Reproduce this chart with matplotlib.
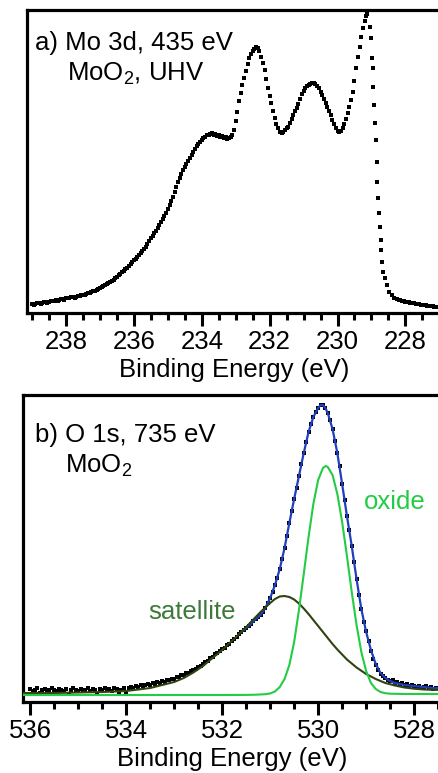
import numpy as np
import matplotlib
matplotlib.use("Agg")
import matplotlib.pyplot as plt
from matplotlib.ticker import MultipleLocator

plt.rcParams['font.family'] = ['Liberation Sans', 'DejaVu Sans']
plt.rcParams['mathtext.fontset'] = 'custom'
plt.rcParams['mathtext.rm'] = 'Liberation Sans'
plt.rcParams['mathtext.it'] = 'Liberation Sans'
plt.rcParams['mathtext.default'] = 'regular'

# ---------------- Panel a: Mo 3d ----------------
mo_energy = [
    239.00, 238.95, 238.90, 238.85, 238.80, 238.75, 238.70, 238.65, 238.60, 238.55,
    238.50, 238.45, 238.40, 238.35, 238.30, 238.25, 238.20, 238.15, 238.10, 238.05,
    238.00, 237.95, 237.90, 237.85, 237.80, 237.75, 237.70, 237.65, 237.60, 237.55,
    237.50, 237.45, 237.40, 237.35, 237.30, 237.25, 237.20, 237.15, 237.10, 237.05,
    237.00, 236.95, 236.90, 236.85, 236.80, 236.75, 236.70, 236.65, 236.60, 236.55,
    236.50, 236.45, 236.40, 236.35, 236.30, 236.25, 236.20, 236.15, 236.10, 236.05,
    236.00, 235.95, 235.90, 235.85, 235.80, 235.75, 235.70, 235.65, 235.60, 235.55,
    235.50, 235.45, 235.40, 235.35, 235.30, 235.25, 235.20, 235.15, 235.10, 235.05,
    235.00, 234.95, 234.90, 234.85, 234.80, 234.75, 234.70, 234.65, 234.60, 234.55,
    234.50, 234.45, 234.40, 234.35, 234.30, 234.25, 234.20, 234.15, 234.10, 234.05,
    234.00, 233.95, 233.90, 233.85, 233.80, 233.75, 233.70, 233.65, 233.60, 233.55,
    233.50, 233.45, 233.40, 233.35, 233.30, 233.25, 233.20,
    233.15, 233.10, 233.05, 233.00, 232.95, 232.90, 232.85, 232.80, 232.75, 232.70,
    232.65, 232.60, 232.55, 232.50, 232.45, 232.40, 232.35, 232.30, 232.25, 232.20,
    232.15, 232.10, 232.05, 232.00, 231.95, 231.90, 231.85, 231.80, 231.75, 231.70,
    231.65, 231.60, 231.55, 231.50, 231.45, 231.40, 231.35, 231.30, 231.25, 231.20,
    231.15, 231.10, 231.05, 231.00, 230.95, 230.90, 230.85, 230.80, 230.75, 230.70,
    230.65, 230.60, 230.55, 230.50, 230.45, 230.40, 230.35, 230.30, 230.25, 230.20,
    230.15, 230.10, 230.05, 230.00, 229.95, 229.90, 229.85, 229.80, 229.75, 229.70,
    229.65, 229.60, 229.55, 229.50, 229.45, 229.40, 229.35, 229.30, 229.25, 229.20,
    229.15, 229.12, 229.04, 229.01, 228.99, 228.965, 228.94, 228.92, 228.895, 228.87,
    228.85, 228.825, 228.80, 228.78, 228.755, 228.73, 228.71, 228.685, 228.66, 228.60,
    228.55, 228.47, 228.40, 228.33, 228.25, 228.20, 228.15, 228.10, 228.05, 228.00,
    227.95, 227.90, 227.85, 227.80, 227.75, 227.70, 227.65, 227.60, 227.55, 227.50,
    227.45, 227.40, 227.35, 227.30, 227.25, 227.20, 227.15, 227.10, 227.05, 227.00,
]
mo_counts = [
    9, 8, 9, 10, 10, 9, 10, 11, 11, 10,
    11, 12, 12, 12, 13, 12, 13, 14, 14, 13,
    15, 15, 15, 16, 16, 15, 16, 17, 17, 18,
    18, 18, 19, 20, 20, 21, 22, 22, 23, 24,
    25, 26, 27, 28, 29, 30, 31, 32, 33, 35,
    36, 38, 39, 41, 42, 44, 45, 47, 49, 51,
    53, 54, 56, 58, 60, 62, 64, 66, 69, 72,
    75, 77, 80, 82, 85, 88, 91, 94, 97, 100,
    104, 108, 112, 116, 121, 126, 131, 135, 139, 143,
    146, 149, 152, 155, 158, 161, 164, 167, 169, 171,
    173, 175, 176, 178, 178, 179, 180, 178, 179, 177,
    178, 176, 177, 175, 176, 174, 175,
    176, 178, 183, 192, 201, 212, 220, 228, 235, 242,
    249, 255, 259, 262, 264, 266, 265, 262, 256, 250,
    243, 234, 225, 217, 210, 202, 195, 189, 185, 181,
    180, 181, 183, 185, 186, 190, 194, 198, 202, 205,
    209, 214, 219, 222, 225, 227, 228, 229, 230, 230,
    229, 227, 225, 221, 218, 214, 210, 206, 202, 198,
    193, 189, 185, 182, 181, 182, 185, 189, 194, 200,
    206, 213, 221, 232, 245, 256, 266, 276, 285, 292,
    297, 299, 286, 275, 255, 245, 226, 208, 190, 173,
    151, 131, 115, 100, 86, 73, 63, 51, 41, 35,
    28, 21, 18, 15, 14, 13, 13, 12, 12, 11,
    11, 11, 10, 10, 10, 9, 9, 9, 8, 8,
    8, 8, 7, 7, 7, 7, 6, 6, 6, 6,
]
mo_ticks = [238, 236, 234, 232, 230, 228]

# ---------------- Panel b: O 1s ----------------
o_energy = [
    536.00, 535.95, 535.90, 535.85, 535.80, 535.75, 535.70, 535.65, 535.60, 535.55,
    535.50, 535.45, 535.40, 535.35, 535.30, 535.25, 535.20, 535.15, 535.10, 535.05,
    535.00, 534.95, 534.90, 534.85, 534.80, 534.75, 534.70, 534.65, 534.60, 534.55,
    534.50, 534.45, 534.40, 534.35, 534.30, 534.25, 534.20, 534.15, 534.10, 534.05,
    534.00, 533.95, 533.90, 533.85, 533.80, 533.75, 533.70, 533.65, 533.60, 533.55,
    533.50, 533.45, 533.40, 533.35, 533.30, 533.25, 533.20, 533.15, 533.10, 533.05,
    533.00, 532.95, 532.90, 532.85, 532.80, 532.75, 532.70, 532.65, 532.60, 532.55,
    532.50, 532.45, 532.40, 532.35, 532.30, 532.25, 532.20, 532.15, 532.10, 532.05,
    532.00, 531.95, 531.90, 531.85, 531.80, 531.75, 531.70, 531.65, 531.60, 531.55,
    531.50, 531.45, 531.40, 531.35, 531.30, 531.25, 531.20, 531.15, 531.10, 531.05,
    531.00, 530.95, 530.90, 530.85, 530.80, 530.75, 530.70, 530.65, 530.60, 530.55,
    530.50, 530.45, 530.40, 530.35, 530.30, 530.25, 530.20, 530.15, 530.10, 530.05,
    530.00, 529.95, 529.90, 529.85, 529.80, 529.75, 529.70, 529.65, 529.60, 529.55,
    529.50, 529.45, 529.40, 529.35, 529.30, 529.25, 529.20, 529.15, 529.10, 529.05,
    529.00, 528.95, 528.90, 528.85, 528.80, 528.75, 528.70, 528.65, 528.60, 528.55,
    528.50, 528.45, 528.40, 528.35, 528.30, 528.25, 528.20, 528.15, 528.10, 528.05,
    528.00, 527.95, 527.90, 527.85, 527.80, 527.75, 527.70, 527.65, 527.60, 527.55,
    527.50,
]
o_counts = [
    13, 11, 12, 14, 9, 12, 13, 11, 12, 14,
    12, 11, 13, 12, 11, 13, 8, 12, 14, 12,
    11, 13, 12, 12, 14, 11, 13, 12, 8, 13,
    12, 14, 12, 13, 11, 14, 13, 9, 12, 14,
    10, 14, 15, 14, 16, 15, 17, 16, 17, 18,
    17, 19, 18, 20, 19, 21, 20, 22, 22, 23,
    23, 25, 25, 27, 27, 29, 29, 31, 32, 33,
    35, 36, 38, 40, 41, 44, 45, 48, 49, 51,
    53, 54, 57, 58, 61, 63, 65, 68, 70, 72,
    74, 76, 78, 81, 83, 85, 87, 90, 94, 99,
    104, 110, 117, 124, 133, 143, 154, 166, 179, 191,
    203, 214, 226, 238, 249, 260, 270, 278, 285, 290,
    294, 297, 297, 294, 289, 282, 273, 261, 249, 236,
    218, 202, 186, 172, 156, 140, 123, 107, 93, 80,
    71, 61, 51, 43, 37, 32, 28, 26, 24, 22,
    21, 22, 19, 20, 18, 19, 17, 18, 16, 17,
    16, 15, 16, 14, 15, 16, 14, 15, 13, 14,
    14,
]
fit_energy = [
    531.6, 531.5, 531.4, 531.3, 531.2, 531.1, 531.0, 530.9, 530.8, 530.7,
    530.6, 530.5, 530.4, 530.3, 530.2, 530.1, 530.0, 529.95, 529.9, 529.85,
    529.8, 529.7, 529.6, 529.5, 529.4, 529.3, 529.2, 529.1, 529.0, 528.9,
    528.8, 528.7, 528.6, 528.5, 528.4, 528.2, 528.0, 527.8, 527.6, 527.45,
]
fit_envelope = [
    70, 74, 78, 83, 87, 94, 104, 117, 133, 154,
    179, 203, 226, 249, 270, 285, 294, 297, 297, 294,
    289, 273, 249, 218, 186, 156, 123, 93, 70, 52,
    38, 29, 24, 21, 19, 17, 16, 15, 14, 14,
]
oxide_energy = [
    536.2, 535.0, 534.0, 533.0, 532.0, 531.5, 531.3, 531.1, 531.0, 530.9,
    530.8, 530.7, 530.6, 530.5, 530.4, 530.3, 530.2, 530.1, 530.0, 529.9,
    529.84, 529.8, 529.7, 529.6, 529.5, 529.4, 529.3, 529.2, 529.1, 529.0,
    528.9, 528.8, 528.7, 528.6, 528.5, 528.2, 527.8, 527.45,
]
oxide_fit = [
    7, 7, 7, 7, 7, 7.1, 7.3, 7.8, 8.5, 10.5,
    15, 23, 37, 60, 92, 128, 165, 198, 222, 234,
    236, 235, 227, 208, 180, 146, 110, 77, 50, 31,
    19, 13, 10, 8.8, 8.3, 8, 8, 8,
]
sat_energy = [
    536.2, 535.5, 535.0, 534.5, 534.0, 533.5, 533.0, 532.8, 532.6, 532.4,
    532.2, 532.0, 531.8, 531.6, 531.4, 531.2, 531.0, 530.9, 530.8, 530.7,
    530.6, 530.5, 530.4, 530.3, 530.2, 530.1, 530.0, 529.9, 529.8, 529.7,
    529.6, 529.5, 529.4, 529.2, 529.0, 528.8, 528.6, 528.4, 528.2, 528.0,
    527.8, 527.45,
]
sat_fit = [
    9, 9, 9.5, 10, 11, 14, 20, 24, 29.5, 36,
    44, 52, 61, 70, 80, 90, 99, 103, 105.5, 106,
    105, 102.5, 98.5, 93.5, 88, 82, 76, 70, 64, 58,
    52.5, 47.5, 42.5, 34.5, 28, 23, 19, 16.5, 14.5, 13.3,
    12.5, 12,
]
o_ticks = [536, 534, 532, 530, 528]

# ---------------- Figure ----------------
W, H = 439, 773
fig = plt.figure(figsize=(W / 100, H / 100), dpi=100)

def px_axes(l, t, r, b):
    return fig.add_axes([l / W, 1 - b / H, (r - l) / W, (b - t) / H])

ax1 = px_axes(27, 10, 441, 313)
ax2 = px_axes(23, 395, 441, 702)

fs = 18.5
oxide_c = '#22cc44'
sat_line_c = '#2f4310'
sat_text_c = '#3d7a3a'

for ax in (ax1, ax2):
    for s in ax.spines.values():
        s.set_linewidth(2.3)
    ax.set_yticks([])
    ax.tick_params(axis='x', which='major', direction='out', length=9.5,
                   width=2.2, labelsize=fs, pad=3)
    ax.tick_params(axis='x', which='minor', direction='out', length=5,
                   width=2.2)
    ax.xaxis.set_minor_locator(MultipleLocator(0.5))
    ax.set_xlabel('Binding Energy (eV)', fontsize=fs, labelpad=2.5)

# panel a
ax1.plot(mo_energy, mo_counts, 's', color='black', markersize=3.0,
         markeredgewidth=0)
ax1.set_xlim(239.15, 226.95)
ax1.set_ylim(0, 303)
ax1.set_xticks(mo_ticks)
ax1.text(8 / 414, 1 - 33 / 303, 'a) Mo 3d, 435 eV', transform=ax1.transAxes,
         fontsize=fs, va='center', ha='left')
ax1.text(40 / 414, 1 - 64 / 303, 'MoO$_2$, UHV', transform=ax1.transAxes,
         fontsize=fs, va='center', ha='left')

# panel b
ax2.plot(o_energy, o_counts, 's', color='black', markersize=3.0,
         markeredgewidth=0, zorder=2)
ax2.plot(fit_energy, fit_envelope, '-', color='#1f3fbf', linewidth=1.6, zorder=3)
ax2.plot(sat_energy, sat_fit, '-', color=sat_line_c, linewidth=1.5, zorder=4)
ax2.plot(oxide_energy, oxide_fit, '-', color=oxide_c, linewidth=1.5, zorder=5)
ax2.set_xlim(536.15, 527.44)
ax2.set_ylim(0, 307)
ax2.set_xticks(o_ticks)
ax2.text(12 / 418, 1 - 40 / 307, 'b) O 1s, 735 eV', transform=ax2.transAxes,
         fontsize=fs, va='center', ha='left')
ax2.text(42 / 418, 1 - 71 / 307, 'MoO$_2$', transform=ax2.transAxes,
         fontsize=fs, va='center', ha='left')
ax2.text(532.63, 90, 'satellite', color=sat_text_c, fontsize=fs,
         ha='center', va='center')
ax2.text(528.4, 200, 'oxide', color=oxide_c, fontsize=fs,
         ha='center', va='center')

fig.savefig('out.png', dpi=100)
